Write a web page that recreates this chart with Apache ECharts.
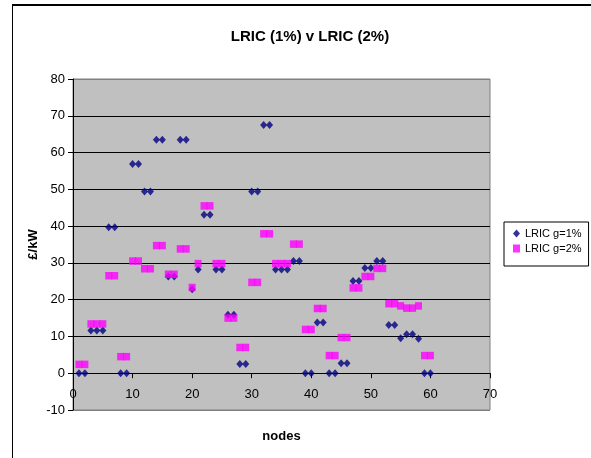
<!DOCTYPE html>
<html>
<head>
<meta charset="utf-8">
<script src="https://cdn.jsdelivr.net/npm/echarts@6/dist/echarts.min.js"></script>
<style>
html,body{margin:0;padding:0;background:#fff;}
#chart{width:591px;height:458px;}
</style>
</head>
<body>
<div id="chart"></div>
<script>
var nodes = [1,2,3,4,5,6,7,8,9,10,11,12,13,14,15,16,17,18,19,20,21,22,23,24,25,26,27,28,29,30,31,32,33,34,35,36,37,38,39,40,41,42,43,44,45,46,47,48,49,50,51,52,53,54,55,56,57,58,59,60];
var lric1 = [0,0,11.6,11.6,11.6,39.7,39.7,0,0,56.9,56.9,49.4,49.4,63.5,63.5,26.3,26.3,63.5,63.5,22.8,28.2,43.1,43.1,28.2,28.2,15.9,15.9,2.5,2.5,49.4,49.4,67.5,67.5,28.2,28.2,28.2,30.5,30.5,0,0,13.8,13.8,0,0,2.7,2.7,25.1,25.1,28.6,28.6,30.5,30.5,13.1,13.1,9.5,10.6,10.6,9.4,0,0];
var lric2 = [2.4,2.4,13.4,13.4,13.4,26.5,26.5,4.5,4.5,30.5,30.5,28.4,28.4,34.7,34.7,26.9,26.9,33.8,33.8,23.3,29.8,45.5,45.5,29.8,29.8,15.0,15.0,7.0,7.0,24.7,24.7,37.9,37.9,29.8,29.8,29.8,35.1,35.1,11.9,11.9,17.6,17.6,4.8,4.8,9.7,9.7,23.2,23.2,26.3,26.3,28.5,28.5,18.9,18.9,18.3,17.7,17.7,18.3,4.8,4.8];
var seriesNames = ['LRIC g=1%','LRIC g=2%'];
var titleText = 'LRIC (1%) v LRIC (2%)';
var xName = 'nodes';
var yName = '£/kW';

function pairs(xs, ys){ var out=[]; for(var i=0;i<xs.length;i++){ out.push([xs[i], ys[i]]); } return out; }

var FONT = '"Liberation Sans", Arial, sans-serif';
var chart = echarts.init(document.getElementById('chart'), null, {renderer:'canvas'});
var splitColors = ['#808080','#000','#000','#000','#000','#000','#000','#000','#000','#808080'];
chart.setOption({
  animation:false,
  backgroundColor:'#fff',
  title:{
    text:titleText, left:305, top:24, textAlign:'center',
    textStyle:{fontFamily:FONT, fontSize:15, fontWeight:'bold', color:'#000'}
  },
  grid:{
    left:73, top:79, width:417, height:331,
    containLabel:false, outerBoundsMode:'none',
    show:true, backgroundColor:'#C0C0C0', borderColor:'#808080', borderWidth:1
  },
  legend:{
    orient:'vertical', left:504, top:222,
    data:[{name:seriesNames[0], icon:'diamond'},{name:seriesNames[1], icon:'rect'}],
    itemWidth:7, itemHeight:8, itemGap:4,
    padding:[6,7,12,9],
    backgroundColor:'#fff', borderColor:'#000', borderWidth:1,
    textStyle:{fontFamily:FONT, fontSize:11, color:'#000'}
  },
  xAxis:{
    type:'value', min:0, max:70, interval:10,
    position:'bottom', offset:-36.8,
    name:xName, nameLocation:'middle', nameGap:57, nameMoveOverlap:false,
    nameTextStyle:{fontFamily:FONT, fontSize:13, fontWeight:'bold', color:'#000'},
    axisLine:{show:true, onZero:false, lineStyle:{color:'#000', width:1}},
    axisTick:{show:true, length:5, lineStyle:{color:'#000'}},
    axisLabel:{fontFamily:FONT, fontSize:13, color:'#000', margin:15},
    splitLine:{show:false}
  },
  yAxis:{
    type:'value', min:-10, max:80, interval:10,
    name:yName, nameLocation:'middle', nameGap:33, nameRotate:90, nameMoveOverlap:false,
    nameTextStyle:{fontFamily:FONT, fontSize:13, fontWeight:'bold', color:'#000'},
    axisLine:{show:true, onZero:false, lineStyle:{color:'#000', width:1}},
    axisTick:{show:true, length:5, lineStyle:{color:'#000'}},
    axisLabel:{fontFamily:FONT, fontSize:13, color:'#000', margin:8},
    splitLine:{show:true, lineStyle:{color:splitColors, width:1}}
  },
  series:[
    {name:seriesNames[0], type:'scatter', symbol:'diamond', symbolSize:[7,8],
     itemStyle:{color:'#000080'}, data:pairs(nodes, lric1), z:2},
    {name:seriesNames[1], type:'scatter', symbol:'rect', symbolSize:[7,7.5],
     itemStyle:{color:'#FF00FF'}, data:pairs(nodes, lric2), z:3}
  ],
  graphic:[
    {type:'line', shape:{x1:12, y1:5, x2:600, y2:5}, style:{stroke:'#000', lineWidth:2}, silent:true},
    {type:'line', shape:{x1:12.5, y1:4, x2:12.5, y2:470}, style:{stroke:'#000', lineWidth:1}, silent:true}
  ]
});
</script>
</body>
</html>
